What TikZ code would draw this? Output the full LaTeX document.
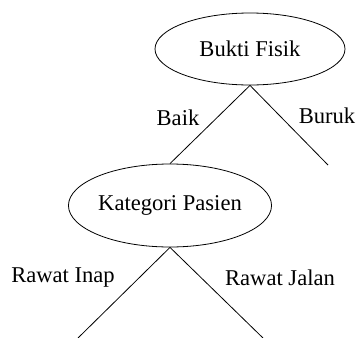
\documentclass[tikz,border=0pt]{standalone}
\usepackage{fontspec}
\setmainfont{Liberation Serif}
\usetikzlibrary{shapes.geometric}

\begin{document}
\begin{tikzpicture}[
    every node/.style={align=center, font=\fontsize{17}{20}\selectfont},
    criterion/.style={draw, ellipse, line width=0.6pt, inner sep=0pt},
    branch line/.style={draw, line width=0.6pt},
    ]
\useasboundingbox (0,0) rectangle (9.445600,-8.942900);
\node[criterion, minimum width=5.027100cm, minimum height=1.905000cm] (BUKTI) at (6.614600,-1.296500) {Bukti Fisik};
\node[criterion, minimum width=5.212300cm, minimum height=2.196000cm] (KATEGORI) at (4.497900,-5.437200) {Kategori Pasien};
\coordinate (BURUKend) at (8.678300,-4.365600);
\coordinate (INAPend) at (2.063800,-8.942900);
\coordinate (JALANend) at (6.958500,-8.942900);
\draw[branch line] (BUKTI.south) -- (KATEGORI.north);
\draw[branch line] (BUKTI.south) -- (BURUKend);
\draw[branch line] (KATEGORI.south) -- (INAPend);
\draw[branch line] (KATEGORI.south) -- (JALANend);
\node (BAIK) at (4.709600,-3.122100) {Baik};
\node (BURUK) at (8.651900,-3.069200) {Buruk};
\node (INAP) at (1.666900,-7.355400) {Rawat Inap};
\node (JALAN) at (7.408300,-7.355400) {Rawat Jalan};
\end{tikzpicture}
\end{document}
